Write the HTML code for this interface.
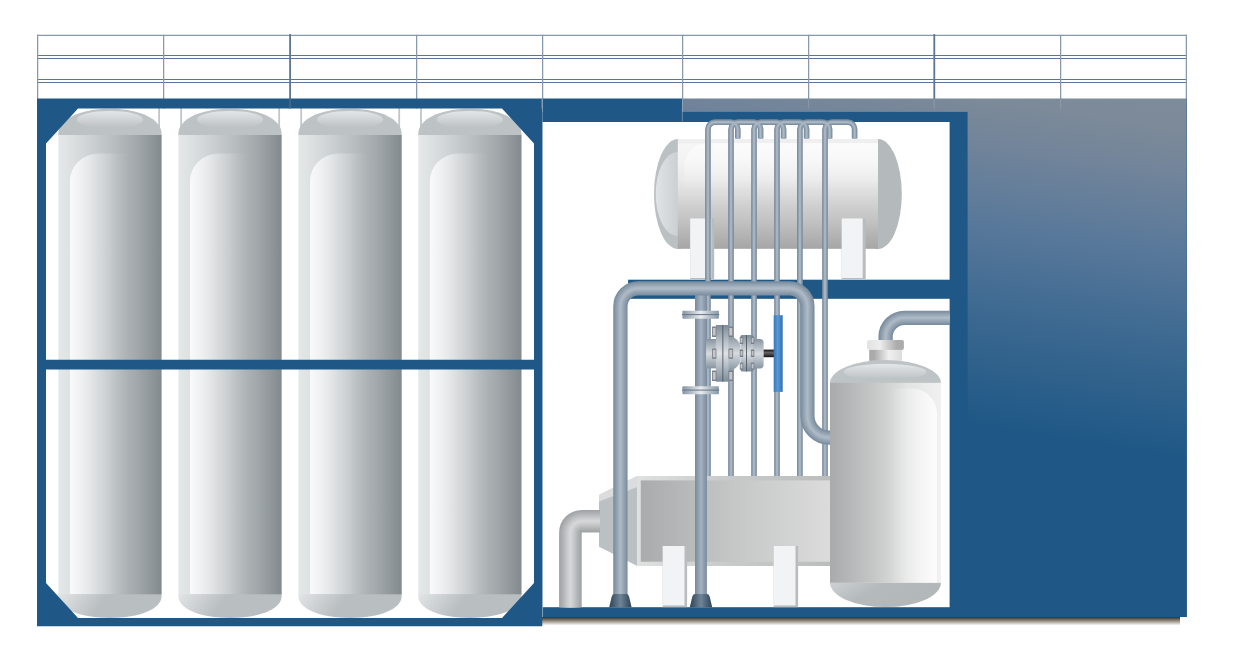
<!DOCTYPE html>
<html lang="en">
<head>
<meta charset="utf-8">
<title>Gas storage and compression unit</title>
<style>
html,body{margin:0;padding:0;background:#fff;font-family:"Liberation Sans",sans-serif;}
body{width:1235px;height:661px;overflow:hidden;}
svg{display:block;}
</style>
</head>
<body>
<svg role="img" aria-label="Gas cylinder rack and compressor unit" width="1235" height="661" viewBox="0 0 1235 661">
<defs>
<linearGradient id="gPanel" gradientUnits="userSpaceOnUse" x1="1187" y1="99" x2="1132.2" y2="448.5">
<stop offset="0" stop-color="#7e8b9a"/><stop offset="0.09" stop-color="#7c8a99"/><stop offset="0.2" stop-color="#73859a"/><stop offset="0.44" stop-color="#58789a"/><stop offset="0.7" stop-color="#3b6890"/><stop offset="1" stop-color="#1f5886"/></linearGradient>
<linearGradient id="gShadow" x1="0" y1="0" x2="0" y2="1">
<stop offset="0" stop-color="#332f24"/><stop offset="0.28" stop-color="#6b6961"/><stop offset="0.6" stop-color="#adada8"/><stop offset="0.85" stop-color="#e4e4e2"/><stop offset="1" stop-color="#ffffff"/></linearGradient>
<linearGradient id="gCyl" x1="0" y1="0" x2="1" y2="0">
<stop offset="0" stop-color="#e5e8e9"/><stop offset="0.12" stop-color="#dde1e2"/><stop offset="0.5" stop-color="#bcc1c3"/><stop offset="0.75" stop-color="#a3a9ac"/><stop offset="1" stop-color="#838a8d"/></linearGradient>
<linearGradient id="gCylHi" x1="0" y1="0" x2="1" y2="0">
<stop offset="0" stop-color="#ffffff" stop-opacity="0.82"/><stop offset="0.31" stop-color="#ffffff" stop-opacity="0.32"/><stop offset="0.52" stop-color="#ffffff" stop-opacity="0.07"/><stop offset="0.66" stop-color="#ffffff" stop-opacity="0"/></linearGradient>
<linearGradient id="gDomeHi" x1="0" y1="0" x2="0" y2="1">
<stop offset="0" stop-color="#e4e7e8"/><stop offset="0.9" stop-color="#bec3c5"/><stop offset="1" stop-color="#bdc2c4"/></linearGradient>
<linearGradient id="gDomeBot0" gradientUnits="userSpaceOnUse" x1="58.3" y1="594" x2="92.0" y2="617.4">
<stop offset="0" stop-color="#e2e5e6"/><stop offset="1" stop-color="#b9bec0"/></linearGradient>
<linearGradient id="gDomeBot1" gradientUnits="userSpaceOnUse" x1="178.35" y1="594" x2="212.05" y2="617.4">
<stop offset="0" stop-color="#e2e5e6"/><stop offset="1" stop-color="#b9bec0"/></linearGradient>
<linearGradient id="gDomeBot2" gradientUnits="userSpaceOnUse" x1="298.4" y1="594" x2="332.09999999999997" y2="617.4">
<stop offset="0" stop-color="#e2e5e6"/><stop offset="1" stop-color="#b9bec0"/></linearGradient>
<linearGradient id="gDomeBot3" gradientUnits="userSpaceOnUse" x1="418.2" y1="594" x2="451.9" y2="617.4">
<stop offset="0" stop-color="#e2e5e6"/><stop offset="1" stop-color="#b9bec0"/></linearGradient>
<linearGradient id="gHTank" x1="0" y1="0" x2="0" y2="1">
<stop offset="0" stop-color="#efefef"/><stop offset="0.035" stop-color="#efefef"/><stop offset="0.045" stop-color="#f6f6f6"/><stop offset="0.2" stop-color="#f3f3f3"/><stop offset="0.37" stop-color="#e9e9e9"/><stop offset="0.51" stop-color="#dbdbdb"/><stop offset="0.6" stop-color="#d0d0d0"/><stop offset="0.74" stop-color="#c3c3c3"/><stop offset="0.87" stop-color="#b4b4b4"/><stop offset="1" stop-color="#a6a6a6"/></linearGradient>
<linearGradient id="gHTankHi" x1="0" y1="0" x2="0" y2="1">
<stop offset="0" stop-color="#ffffff" stop-opacity="0.8"/><stop offset="1" stop-color="#ffffff" stop-opacity="0"/></linearGradient>
<linearGradient id="gCapL" x1="0" y1="0" x2="1" y2="0">
<stop offset="0" stop-color="#e1e4e5"/><stop offset="0.85" stop-color="#bcc1c3"/><stop offset="1" stop-color="#bbc0c2"/></linearGradient>
<linearGradient id="gVTank" x1="0" y1="0" x2="1" y2="0">
<stop offset="0" stop-color="#a9aaab"/><stop offset="0.4" stop-color="#c6c8c8"/><stop offset="0.7" stop-color="#e2e3e3"/><stop offset="1" stop-color="#f1f1f1"/></linearGradient>
<linearGradient id="gVTankHi" x1="0" y1="0" x2="1" y2="0">
<stop offset="0" stop-color="#ffffff" stop-opacity="0"/><stop offset="0.12" stop-color="#ffffff" stop-opacity="0.02"/><stop offset="1" stop-color="#ffffff" stop-opacity="0.8"/></linearGradient>
<linearGradient id="gCapTop" x1="0" y1="0" x2="1" y2="0">
<stop offset="0" stop-color="#e2e2e2"/><stop offset="0.35" stop-color="#ededed"/><stop offset="0.8" stop-color="#adadad"/><stop offset="1" stop-color="#ababab"/></linearGradient>
<linearGradient id="gNeck" x1="0" y1="0" x2="1" y2="0">
<stop offset="0" stop-color="#a8a8a8"/><stop offset="0.15" stop-color="#ababab"/><stop offset="0.6" stop-color="#f0f0f0"/><stop offset="1" stop-color="#dcdcdc"/></linearGradient>
<linearGradient id="gBox" x1="0" y1="0" x2="1" y2="0">
<stop offset="0" stop-color="#aaabac"/><stop offset="0.5" stop-color="#c6c7c7"/><stop offset="1" stop-color="#dcdcdc"/></linearGradient>
<linearGradient id="gBoxBorder" x1="0" y1="0" x2="1" y2="0">
<stop offset="0" stop-color="#dfe0e0"/><stop offset="0.45" stop-color="#c9caca"/><stop offset="1" stop-color="#bbbcbc"/></linearGradient>
<linearGradient id="gVBot" x1="0" y1="0" x2="1" y2="0.4">
<stop offset="0" stop-color="#cdd1d2"/><stop offset="0.45" stop-color="#b4b9bb"/><stop offset="1" stop-color="#b2b7b9"/></linearGradient>
<linearGradient id="gFlange" x1="0" y1="0" x2="1" y2="0">
<stop offset="0" stop-color="#8797a7"/><stop offset="0.25" stop-color="#b4bec8"/><stop offset="0.5" stop-color="#eaecee"/><stop offset="0.75" stop-color="#b4bec8"/><stop offset="1" stop-color="#8797a7"/></linearGradient>
<linearGradient id="gValveV" x1="0" y1="0" x2="0" y2="1">
<stop offset="0" stop-color="#8795a2"/><stop offset="0.5" stop-color="#d6dade"/><stop offset="1" stop-color="#8795a2"/></linearGradient>
<linearGradient id="gValveF" x1="0" y1="0" x2="0" y2="1">
<stop offset="0" stop-color="#7f8d9a"/><stop offset="0.5" stop-color="#dfe2e5"/><stop offset="1" stop-color="#7f8d9a"/></linearGradient>
<linearGradient id="gStem" x1="0" y1="0" x2="0" y2="1">
<stop offset="0" stop-color="#111"/><stop offset="0.4" stop-color="#666"/><stop offset="1" stop-color="#111"/></linearGradient>
<linearGradient id="gHandle" x1="0" y1="0" x2="1" y2="0">
<stop offset="0" stop-color="#3577bd"/><stop offset="0.45" stop-color="#5b98d4"/><stop offset="1" stop-color="#2f70b5"/></linearGradient>
<linearGradient id="gFoot" x1="0" y1="0" x2="1" y2="0">
<stop offset="0" stop-color="#2f4356"/><stop offset="0.5" stop-color="#6f8496"/><stop offset="1" stop-color="#2f4356"/></linearGradient>
</defs>
<rect width="1235" height="661" fill="#ffffff"/>
<g>
<rect x="37.00" y="34.75" width="1150.00" height="1.25" fill="#8799ac" />
<rect x="37.00" y="55.00" width="1150.00" height="1.00" fill="#5c7590" />
<rect x="37.00" y="58.00" width="1150.00" height="1.00" fill="#5c7590" />
<rect x="37.00" y="79.00" width="1150.00" height="1.00" fill="#5c7590" />
<rect x="37.00" y="82.00" width="1150.00" height="1.00" fill="#5c7590" />
<rect x="37.00" y="34.75" width="1.25" height="73.85" fill="#8799ac" />
<rect x="163.00" y="34.75" width="1.25" height="73.85" fill="#8799ac" />
<rect x="416.00" y="34.75" width="1.25" height="73.85" fill="#8799ac" />
<rect x="542.00" y="34.75" width="1.25" height="73.85" fill="#8799ac" />
<rect x="682.00" y="34.75" width="1.25" height="73.85" fill="#8799ac" />
<rect x="808.00" y="34.75" width="1.25" height="73.85" fill="#8799ac" />
<rect x="1060.00" y="34.75" width="1.25" height="73.85" fill="#8799ac" />
<rect x="1185.75" y="34.75" width="1.25" height="64.25" fill="#8799ac" />
<rect x="289.20" y="34.10" width="1.80" height="74.40" fill="#5c7590" />
<rect x="933.40" y="34.10" width="1.80" height="74.40" fill="#5c7590" />
</g>
<rect x="682.40" y="98.50" width="504.50" height="518.50" fill="url(#gPanel)" />
<rect x="1186.00" y="98.80" width="0.90" height="518.20" fill="#1f5886" opacity="0.45"/>
<rect x="542.00" y="617.00" width="638.00" height="8.60" fill="url(#gShadow)" />
<rect x="542.60" y="98.50" width="139.50" height="23.10" fill="#1f5886" />
<rect x="808.00" y="99.00" width="1.25" height="9.60" fill="#a5b1bf" opacity="0.35"/>
<rect x="933.60" y="99.00" width="1.25" height="9.60" fill="#a5b1bf" opacity="0.35"/>
<rect x="1060.00" y="99.00" width="1.25" height="9.60" fill="#a5b1bf" opacity="0.35"/>
<rect x="682.00" y="98.50" width="1.00" height="10.00" fill="#8fa2b6" />
<rect x="542.60" y="111.90" width="425.00" height="505.10" fill="#1f5886" />
<rect x="542.60" y="122.00" width="407.00" height="485.20" fill="#ffffff" />
<rect x="681.90" y="108.00" width="0.70" height="13.60" fill="#7f9bb8" />
<rect x="628.10" y="279.70" width="321.90" height="19.10" fill="#1f5886" />
<ellipse cx="678" cy="194" rx="24" ry="55" fill="#bbc0c2"/>
<ellipse cx="677.5" cy="194" rx="21.8" ry="42" fill="url(#gCapL)"/>
<ellipse cx="878" cy="194" rx="23.8" ry="55" fill="#b4b9bb"/>
<rect x="677.80" y="139.00" width="200.20" height="109.80" fill="url(#gHTank)" />
<path d="M684.3 190 V167 a24 24 0 0 1 24 -24 H878 V190 Z" fill="url(#gHTankHi)" opacity="0.75"/>
<rect x="690.20" y="218.40" width="24.00" height="60.80" fill="#b9bcbe" />
<rect x="690.20" y="218.40" width="21.00" height="59.60" fill="#f2f3f5" />
<rect x="841.70" y="218.40" width="24.00" height="60.80" fill="#b9bcbe" />
<rect x="841.70" y="218.40" width="21.00" height="59.60" fill="#f2f3f5" />
<path d="M707.95 476 V129.2 A7.0 7.0 0 0 1 714.95 122.2 H730.8 A7.0 7.0 0 0 1 737.8 129.2 V138.6" fill="none" stroke="#798c9f" stroke-width="5.7"/>
<path d="M731.0 476 V129.2 A7.0 7.0 0 0 1 738.0 122.2 H753.6 A7.0 7.0 0 0 1 760.6 129.2 V138.6" fill="none" stroke="#798c9f" stroke-width="5.7"/>
<path d="M754.0 476 V129.2 A7.0 7.0 0 0 1 761.0 122.2 H776.6 A7.0 7.0 0 0 1 783.6 129.2 V138.6" fill="none" stroke="#798c9f" stroke-width="5.7"/>
<path d="M777.0 476 V129.2 A7.0 7.0 0 0 1 784.0 122.2 H799.6 A7.0 7.0 0 0 1 806.6 129.2 V138.6" fill="none" stroke="#798c9f" stroke-width="5.7"/>
<path d="M799.9 476 V129.2 A7.0 7.0 0 0 1 806.9 122.2 H822.6 A7.0 7.0 0 0 1 829.6 129.2 V138.6" fill="none" stroke="#798c9f" stroke-width="5.7"/>
<path d="M825.0 476 V129.2 A7.0 7.0 0 0 1 832.0 122.2 H847.6 A7.0 7.0 0 0 1 854.6 129.2 V138.6" fill="none" stroke="#798c9f" stroke-width="5.7"/>
<path d="M707.95 476 V129.2 A7.0 7.0 0 0 1 714.95 122.2 H730.8 A7.0 7.0 0 0 1 737.8 129.2 V138.6" fill="none" stroke="#8c9dad" stroke-width="3.9"/>
<path d="M731.0 476 V129.2 A7.0 7.0 0 0 1 738.0 122.2 H753.6 A7.0 7.0 0 0 1 760.6 129.2 V138.6" fill="none" stroke="#8c9dad" stroke-width="3.9"/>
<path d="M754.0 476 V129.2 A7.0 7.0 0 0 1 761.0 122.2 H776.6 A7.0 7.0 0 0 1 783.6 129.2 V138.6" fill="none" stroke="#8c9dad" stroke-width="3.9"/>
<path d="M777.0 476 V129.2 A7.0 7.0 0 0 1 784.0 122.2 H799.6 A7.0 7.0 0 0 1 806.6 129.2 V138.6" fill="none" stroke="#8c9dad" stroke-width="3.9"/>
<path d="M799.9 476 V129.2 A7.0 7.0 0 0 1 806.9 122.2 H822.6 A7.0 7.0 0 0 1 829.6 129.2 V138.6" fill="none" stroke="#8c9dad" stroke-width="3.9"/>
<path d="M825.0 476 V129.2 A7.0 7.0 0 0 1 832.0 122.2 H847.6 A7.0 7.0 0 0 1 854.6 129.2 V138.6" fill="none" stroke="#8c9dad" stroke-width="3.9"/>
<path d="M707.95 476 V129.2 A7.0 7.0 0 0 1 714.95 122.2 H730.8 A7.0 7.0 0 0 1 737.8 129.2 V138.6" fill="none" stroke="#a3b0bc" stroke-width="2.2"/>
<path d="M731.0 476 V129.2 A7.0 7.0 0 0 1 738.0 122.2 H753.6 A7.0 7.0 0 0 1 760.6 129.2 V138.6" fill="none" stroke="#a3b0bc" stroke-width="2.2"/>
<path d="M754.0 476 V129.2 A7.0 7.0 0 0 1 761.0 122.2 H776.6 A7.0 7.0 0 0 1 783.6 129.2 V138.6" fill="none" stroke="#a3b0bc" stroke-width="2.2"/>
<path d="M777.0 476 V129.2 A7.0 7.0 0 0 1 784.0 122.2 H799.6 A7.0 7.0 0 0 1 806.6 129.2 V138.6" fill="none" stroke="#a3b0bc" stroke-width="2.2"/>
<path d="M799.9 476 V129.2 A7.0 7.0 0 0 1 806.9 122.2 H822.6 A7.0 7.0 0 0 1 829.6 129.2 V138.6" fill="none" stroke="#a3b0bc" stroke-width="2.2"/>
<path d="M825.0 476 V129.2 A7.0 7.0 0 0 1 832.0 122.2 H847.6 A7.0 7.0 0 0 1 854.6 129.2 V138.6" fill="none" stroke="#a3b0bc" stroke-width="2.2"/>
<path d="M707.95 476 V129.2 A7.0 7.0 0 0 1 714.95 122.2 H730.8 A7.0 7.0 0 0 1 737.8 129.2 V138.6" fill="none" stroke="#aeb9c4" stroke-width="1.0"/>
<path d="M731.0 476 V129.2 A7.0 7.0 0 0 1 738.0 122.2 H753.6 A7.0 7.0 0 0 1 760.6 129.2 V138.6" fill="none" stroke="#aeb9c4" stroke-width="1.0"/>
<path d="M754.0 476 V129.2 A7.0 7.0 0 0 1 761.0 122.2 H776.6 A7.0 7.0 0 0 1 783.6 129.2 V138.6" fill="none" stroke="#aeb9c4" stroke-width="1.0"/>
<path d="M777.0 476 V129.2 A7.0 7.0 0 0 1 784.0 122.2 H799.6 A7.0 7.0 0 0 1 806.6 129.2 V138.6" fill="none" stroke="#aeb9c4" stroke-width="1.0"/>
<path d="M799.9 476 V129.2 A7.0 7.0 0 0 1 806.9 122.2 H822.6 A7.0 7.0 0 0 1 829.6 129.2 V138.6" fill="none" stroke="#aeb9c4" stroke-width="1.0"/>
<path d="M825.0 476 V129.2 A7.0 7.0 0 0 1 832.0 122.2 H847.6 A7.0 7.0 0 0 1 854.6 129.2 V138.6" fill="none" stroke="#aeb9c4" stroke-width="1.0"/>
<path d="M599 495 L637.4 476 V566 L599 546.7 Z" fill="#bbc0c2"/>
<path d="M599 495 L637.4 476 V487 L599 501.5 Z" fill="#dbdddd"/>
<rect x="637.20" y="476.00" width="194.80" height="90.00" fill="url(#gBoxBorder)" />
<rect x="640.80" y="480.40" width="191.20" height="81.30" fill="url(#gBox)" />
<rect x="662.70" y="546.00" width="24.40" height="61.20" fill="#b9bcbe" />
<rect x="662.70" y="546.00" width="21.80" height="59.40" fill="#f2f3f5" />
<rect x="773.70" y="546.00" width="24.40" height="61.20" fill="#b9bcbe" />
<rect x="773.70" y="546.00" width="21.80" height="59.40" fill="#f2f3f5" />
<path d="M600 521.2 H581.9 A11.5 11.5 0 0 0 570.4 532.7 V607.2" fill="none" stroke="#a0a3a5" stroke-width="22.6" />
<path d="M600 521.2 H581.9 A11.5 11.5 0 0 0 570.4 532.7 V607.2" fill="none" stroke="#a6a9ab" stroke-width="20.34" />
<path d="M600 521.2 H581.9 A11.5 11.5 0 0 0 570.4 532.7 V607.2" fill="none" stroke="#acaeb0" stroke-width="18.08" />
<path d="M600 521.2 H581.9 A11.5 11.5 0 0 0 570.4 532.7 V607.2" fill="none" stroke="#b1b4b6" stroke-width="15.82" />
<path d="M600 521.2 H581.9 A11.5 11.5 0 0 0 570.4 532.7 V607.2" fill="none" stroke="#b7babb" stroke-width="13.56" />
<path d="M600 521.2 H581.9 A11.5 11.5 0 0 0 570.4 532.7 V607.2" fill="none" stroke="#bdc0c1" stroke-width="11.3" />
<path d="M600 521.2 H581.9 A11.5 11.5 0 0 0 570.4 532.7 V607.2" fill="none" stroke="#c3c5c7" stroke-width="9.04" />
<path d="M600 521.2 H581.9 A11.5 11.5 0 0 0 570.4 532.7 V607.2" fill="none" stroke="#c9cbcc" stroke-width="6.78" />
<path d="M600 521.2 H581.9 A11.5 11.5 0 0 0 570.4 532.7 V607.2" fill="none" stroke="#ced1d2" stroke-width="4.52" />
<path d="M600 521.2 H581.9 A11.5 11.5 0 0 0 570.4 532.7 V607.2" fill="none" stroke="#d4d6d7" stroke-width="2.26" />
<path d="M700.95 294 V600" fill="none" stroke="#7a8d9f" stroke-width="11.9" />
<path d="M700.95 294 V600" fill="none" stroke="#8193a4" stroke-width="10.2" />
<path d="M700.95 294 V600" fill="none" stroke="#8899a9" stroke-width="8.5" />
<path d="M700.95 294 V600" fill="none" stroke="#8f9fae" stroke-width="6.8" />
<path d="M700.95 294 V600" fill="none" stroke="#95a4b3" stroke-width="5.1" />
<path d="M700.95 294 V600" fill="none" stroke="#9caab8" stroke-width="3.4" />
<path d="M700.95 294 V600" fill="none" stroke="#a3b0bd" stroke-width="1.7" />
<path d="M620.4 600 V306.4 A18 18 0 0 1 638.4 288.4 H789.4 A18 18 0 0 1 807.4 306.4 V415.7 A22 22 0 0 0 829.4 437.7 H832" fill="none" stroke="#7a8d9f" stroke-width="14.3" />
<path d="M620.4 600 V306.4 A18 18 0 0 1 638.4 288.4 H789.4 A18 18 0 0 1 807.4 306.4 V415.7 A22 22 0 0 0 829.4 437.7 H832" fill="none" stroke="#8193a4" stroke-width="12.51" />
<path d="M620.4 600 V306.4 A18 18 0 0 1 638.4 288.4 H789.4 A18 18 0 0 1 807.4 306.4 V415.7 A22 22 0 0 0 829.4 437.7 H832" fill="none" stroke="#889aaa" stroke-width="10.73" />
<path d="M620.4 600 V306.4 A18 18 0 0 1 638.4 288.4 H789.4 A18 18 0 0 1 807.4 306.4 V415.7 A22 22 0 0 0 829.4 437.7 H832" fill="none" stroke="#90a0af" stroke-width="8.94" />
<path d="M620.4 600 V306.4 A18 18 0 0 1 638.4 288.4 H789.4 A18 18 0 0 1 807.4 306.4 V415.7 A22 22 0 0 0 829.4 437.7 H832" fill="none" stroke="#97a6b4" stroke-width="7.15" />
<path d="M620.4 600 V306.4 A18 18 0 0 1 638.4 288.4 H789.4 A18 18 0 0 1 807.4 306.4 V415.7 A22 22 0 0 0 829.4 437.7 H832" fill="none" stroke="#9eacba" stroke-width="5.36" />
<path d="M620.4 600 V306.4 A18 18 0 0 1 638.4 288.4 H789.4 A18 18 0 0 1 807.4 306.4 V415.7 A22 22 0 0 0 829.4 437.7 H832" fill="none" stroke="#a6b2bf" stroke-width="3.58" />
<path d="M620.4 600 V306.4 A18 18 0 0 1 638.4 288.4 H789.4 A18 18 0 0 1 807.4 306.4 V415.7 A22 22 0 0 0 829.4 437.7 H832" fill="none" stroke="#adb9c5" stroke-width="1.79" />
<path d="M614.1999999999999 594 Q612.1999999999999 594 611.6 597 L609.1999999999999 607.2 H631.6 L629.1999999999999 597 Q628.6 594 626.6 594 Z" fill="url(#gFoot)"/>
<path d="M694.8 594 Q692.8 594 692.2 597 L689.8 607.2 H712.2 L709.8 597 Q709.2 594 707.2 594 Z" fill="url(#gFoot)"/>
<rect x="682.40" y="310.80" width="36.50" height="8.00" fill="url(#gFlange)" rx="0.8"/>
<rect x="682.00" y="314.10" width="37.30" height="1.00" fill="#667686" />
<rect x="682.40" y="386.30" width="36.50" height="8.00" fill="url(#gFlange)" rx="0.8"/>
<rect x="682.00" y="389.60" width="37.30" height="1.00" fill="#667686" />
<rect x="706.00" y="339.00" width="10.50" height="29.40" fill="url(#gValveV)" />
<path d="M728.5 335.5 C733.5 336 738.5 340 740.6 345.5 V361 C738.5 366.5 733.5 370.5 728.5 371 Z" fill="url(#gValveV)"/>
<rect x="715.90" y="325.00" width="12.80" height="56.70" fill="url(#gValveF)" />
<rect x="722.40" y="325.00" width="0.90" height="56.70" fill="#4d5a66" />
<rect x="712.00" y="326.50" width="4.40" height="10.40" fill="#787f86" rx="0.6"/>
<rect x="712.80" y="327.90" width="2.80" height="7.60" fill="#c3c7cb" />
<rect x="728.50" y="326.50" width="4.60" height="10.40" fill="#787f86" rx="0.6"/>
<rect x="729.30" y="327.90" width="3.00" height="7.60" fill="#c3c7cb" />
<rect x="712.00" y="348.40" width="4.40" height="10.40" fill="#787f86" rx="0.6"/>
<rect x="712.80" y="349.80" width="2.80" height="7.60" fill="#c3c7cb" />
<rect x="728.50" y="348.40" width="4.60" height="10.40" fill="#787f86" rx="0.6"/>
<rect x="729.30" y="349.80" width="3.00" height="7.60" fill="#c3c7cb" />
<rect x="712.00" y="370.60" width="4.40" height="10.40" fill="#787f86" rx="0.6"/>
<rect x="712.80" y="372.00" width="2.80" height="7.60" fill="#c3c7cb" />
<rect x="728.50" y="370.60" width="4.60" height="10.40" fill="#787f86" rx="0.6"/>
<rect x="729.30" y="372.00" width="3.00" height="7.60" fill="#c3c7cb" />
<path d="M753.5 339 H760 Q763.6 339 763.6 342.6 V364.8 Q763.6 368.4 760 368.4 H753.5 Z" fill="url(#gValveV)"/>
<rect x="740.80" y="335.10" width="12.60" height="36.30" fill="url(#gValveF)" rx="1"/>
<rect x="746.00" y="335.10" width="0.90" height="36.30" fill="#4d5a66" />
<rect x="739.80" y="336.60" width="3.40" height="7.40" fill="#787f86" rx="0.6"/>
<rect x="740.60" y="338.00" width="1.80" height="4.60" fill="#c3c7cb" />
<rect x="750.90" y="336.60" width="3.40" height="7.40" fill="#787f86" rx="0.6"/>
<rect x="751.70" y="338.00" width="1.80" height="4.60" fill="#c3c7cb" />
<rect x="739.80" y="349.60" width="3.40" height="7.40" fill="#787f86" rx="0.6"/>
<rect x="740.60" y="351.00" width="1.80" height="4.60" fill="#c3c7cb" />
<rect x="750.90" y="349.60" width="3.40" height="7.40" fill="#787f86" rx="0.6"/>
<rect x="751.70" y="351.00" width="1.80" height="4.60" fill="#c3c7cb" />
<rect x="739.80" y="362.40" width="3.40" height="7.40" fill="#787f86" rx="0.6"/>
<rect x="740.60" y="363.80" width="1.80" height="4.60" fill="#c3c7cb" />
<rect x="750.90" y="362.40" width="3.40" height="7.40" fill="#787f86" rx="0.6"/>
<rect x="751.70" y="363.80" width="1.80" height="4.60" fill="#c3c7cb" />
<rect x="763.60" y="349.60" width="10.40" height="7.60" fill="url(#gStem)" />
<rect x="773.70" y="315.20" width="9.00" height="76.70" fill="url(#gHandle)" />
<path d="M950 317.8 H904.6 A19 19 0 0 0 885.6 336.8 V341" fill="none" stroke="#7a8d9f" stroke-width="14.3" />
<path d="M950 317.8 H904.6 A19 19 0 0 0 885.6 336.8 V341" fill="none" stroke="#8193a4" stroke-width="12.51" />
<path d="M950 317.8 H904.6 A19 19 0 0 0 885.6 336.8 V341" fill="none" stroke="#889aaa" stroke-width="10.73" />
<path d="M950 317.8 H904.6 A19 19 0 0 0 885.6 336.8 V341" fill="none" stroke="#90a0af" stroke-width="8.94" />
<path d="M950 317.8 H904.6 A19 19 0 0 0 885.6 336.8 V341" fill="none" stroke="#97a6b4" stroke-width="7.15" />
<path d="M950 317.8 H904.6 A19 19 0 0 0 885.6 336.8 V341" fill="none" stroke="#9eacba" stroke-width="5.36" />
<path d="M950 317.8 H904.6 A19 19 0 0 0 885.6 336.8 V341" fill="none" stroke="#a6b2bf" stroke-width="3.58" />
<path d="M950 317.8 H904.6 A19 19 0 0 0 885.6 336.8 V341" fill="none" stroke="#adb9c5" stroke-width="1.79" />
<rect x="867.10" y="340.00" width="36.80" height="9.90" fill="url(#gCapTop)" rx="1.8"/>
<rect x="869.20" y="349.90" width="32.80" height="11.00" fill="url(#gNeck)" />
<path d="M830 383.2 A55.5 23.2 0 0 1 941 383.2 Z" fill="#bec3c5"/>
<ellipse cx="885" cy="372" rx="41.5" ry="8.2" fill="url(#gDomeHi)"/>
<path d="M830 582.5 H941 A55.5 24.6 0 0 1 830 582.5 Z" fill="url(#gVBot)"/>
<rect x="830.00" y="382.80" width="111.00" height="200.00" fill="url(#gVTank)" />
<path d="M885 582.4 V388.6 H912 a25 25 0 0 1 25 25 V582.4 Z" fill="url(#gVTankHi)"/>
<rect x="60.20" y="108.00" width="1.80" height="25.00" fill="#c2c6c9" />
<rect x="158.20" y="108.00" width="1.80" height="25.00" fill="#c2c6c9" />
<rect x="180.25" y="108.00" width="1.80" height="25.00" fill="#c2c6c9" />
<rect x="278.25" y="108.00" width="1.80" height="25.00" fill="#c2c6c9" />
<rect x="300.30" y="108.00" width="1.80" height="25.00" fill="#c2c6c9" />
<rect x="398.30" y="108.00" width="1.80" height="25.00" fill="#c2c6c9" />
<rect x="420.10" y="108.00" width="1.80" height="25.00" fill="#c2c6c9" />
<rect x="518.10" y="108.00" width="1.80" height="25.00" fill="#c2c6c9" />
<path d="M58.3 135.3 V134 C58.3 119.5 79.3 108.8 109.94999999999999 108.8 C140.6 108.8 161.6 119.5 161.6 134 V135.3 Z" fill="#bdc2c4"/>
<ellipse cx="109.94999999999999" cy="119.7" rx="33.2" ry="8.8" fill="url(#gDomeHi)"/>
<path d="M58.3 593.6 H161.6 V596 C161.6 609 139.6 617.9 109.94999999999999 617.9 C80.3 617.9 58.3 609 58.3 596 Z" fill="url(#gDomeBot0)"/>
<rect x="58.30" y="135.00" width="103.30" height="459.30" fill="url(#gCyl)" />
<path d="M69.89999999999999 594 V181.5 a28 28 0 0 1 28 -28 H161.6 V594 Z" fill="url(#gCylHi)"/>
<path d="M178.35 135.3 V134 C178.35 119.5 199.35 108.8 230.0 108.8 C260.65 108.8 281.65 119.5 281.65 134 V135.3 Z" fill="#bdc2c4"/>
<ellipse cx="230.0" cy="119.7" rx="33.2" ry="8.8" fill="url(#gDomeHi)"/>
<path d="M178.35 593.6 H281.65 V596 C281.65 609 259.65 617.9 230.0 617.9 C200.35 617.9 178.35 609 178.35 596 Z" fill="url(#gDomeBot1)"/>
<rect x="178.35" y="135.00" width="103.30" height="459.30" fill="url(#gCyl)" />
<path d="M189.95 594 V181.5 a28 28 0 0 1 28 -28 H281.65 V594 Z" fill="url(#gCylHi)"/>
<path d="M298.4 135.3 V134 C298.4 119.5 319.4 108.8 350.04999999999995 108.8 C380.7 108.8 401.7 119.5 401.7 134 V135.3 Z" fill="#bdc2c4"/>
<ellipse cx="350.04999999999995" cy="119.7" rx="33.2" ry="8.8" fill="url(#gDomeHi)"/>
<path d="M298.4 593.6 H401.7 V596 C401.7 609 379.7 617.9 350.04999999999995 617.9 C320.4 617.9 298.4 609 298.4 596 Z" fill="url(#gDomeBot2)"/>
<rect x="298.40" y="135.00" width="103.30" height="459.30" fill="url(#gCyl)" />
<path d="M310.0 594 V181.5 a28 28 0 0 1 28 -28 H401.7 V594 Z" fill="url(#gCylHi)"/>
<path d="M418.2 135.3 V134 C418.2 119.5 439.2 108.8 469.84999999999997 108.8 C500.5 108.8 521.5 119.5 521.5 134 V135.3 Z" fill="#bdc2c4"/>
<ellipse cx="469.84999999999997" cy="119.7" rx="33.2" ry="8.8" fill="url(#gDomeHi)"/>
<path d="M418.2 593.6 H521.5 V596 C521.5 609 499.5 617.9 469.84999999999997 617.9 C440.2 617.9 418.2 609 418.2 596 Z" fill="url(#gDomeBot3)"/>
<rect x="418.20" y="135.00" width="103.30" height="459.30" fill="url(#gCyl)" />
<path d="M429.8 594 V181.5 a28 28 0 0 1 28 -28 H521.5 V594 Z" fill="url(#gCylHi)"/>
<path fill="#1f5886" fill-rule="evenodd" d="M37 98.5 H542.3 V626.3 H37 Z M46 143.4 V359.8 H534 V143.4 L502 108.4 H78 Z M46 369.5 V583 L78 618 H502 L534 583 V369.5 Z"/>
<rect x="541.60" y="98.50" width="1.30" height="10.10" fill="#8fa2b6" />
<rect x="289.20" y="98.50" width="1.80" height="10.00" fill="#5c7590" opacity="0.55"/>
</svg>
</body>
</html>
